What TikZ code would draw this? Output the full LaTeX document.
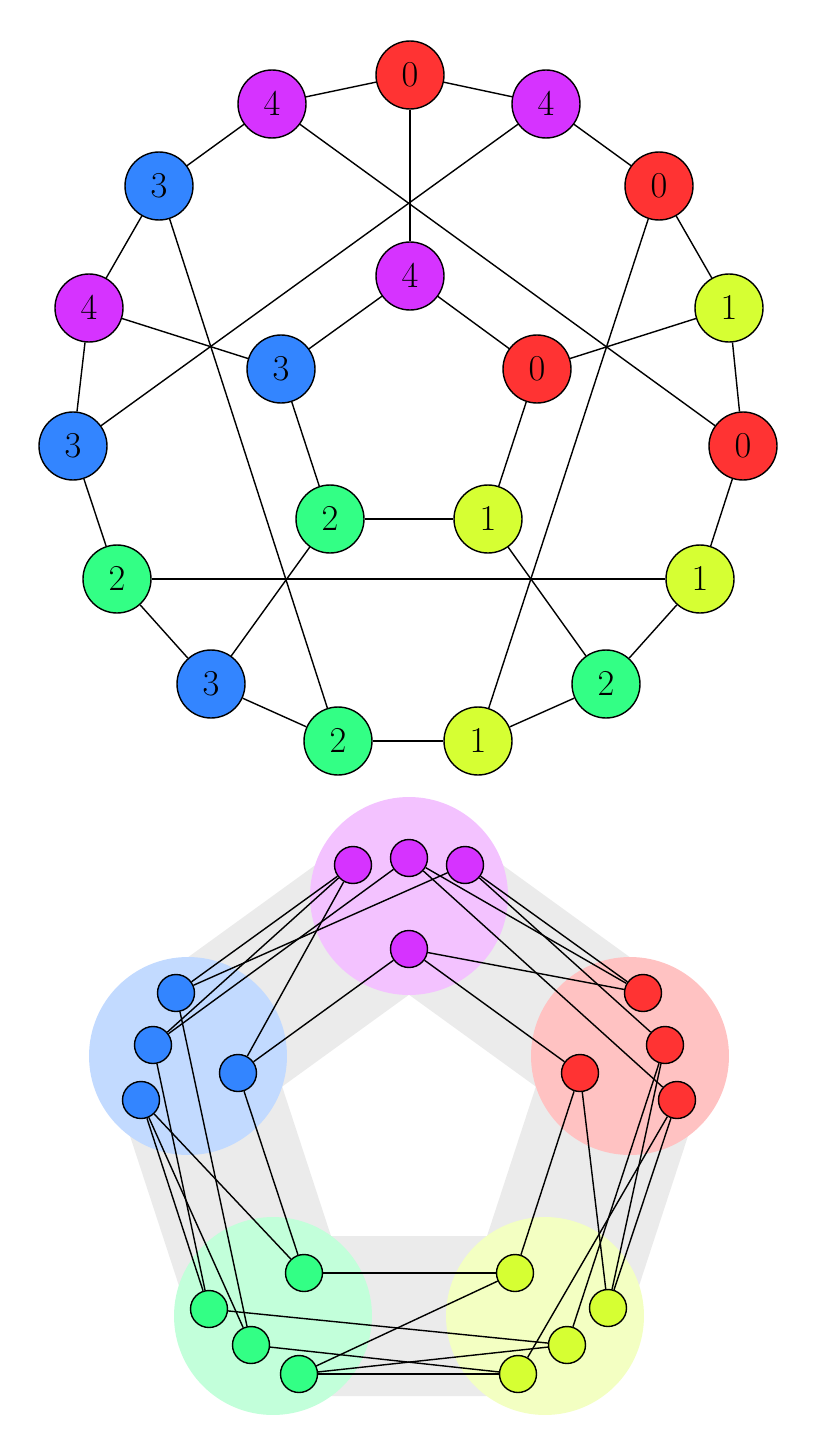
\documentclass[tikz,border=0pt]{standalone}
\usepackage{amsmath}
\usepackage{tikz}

\definecolor{cred}{RGB}{255,51,51}
\definecolor{cyel}{RGB}{214,255,51}
\definecolor{cgrn}{RGB}{51,255,133}
\definecolor{cblu}{RGB}{51,133,255}
\definecolor{cpur}{RGB}{214,51,255}

\begin{document}
\begin{tikzpicture}[x=0.02cm,y=-0.02cm,
        vert/.style={circle,draw,line width=0.8pt,minimum size=1.36cm,inner sep=0pt,font=\fontsize{20}{24}\selectfont},
        dot/.style={circle,draw,line width=0.8pt,minimum size=0.74cm,inner sep=0pt},
        blob/.style={circle,minimum size=3.96cm,inner sep=0pt},
        edge/.style={line width=0.8pt}]
        \useasboundingbox (0,0) rectangle (820,1456);
        % upper drawing
        \node[vert,fill=cred] (tra) at (410,75) {$0$};
        \node[vert,fill=cpur] (tpa) at (272,104) {$4$};
        \node[vert,fill=cpur] (tpb) at (546,104) {$4$};
        \node[vert,fill=cblu] (tba) at (159,186) {$3$};
        \node[vert,fill=cred] (trb) at (659,186) {$0$};
        \node[vert,fill=cpur] (tpc) at (410,276) {$4$};
        \node[vert,fill=cpur] (tpd) at (89,308) {$4$};
        \node[vert,fill=cyel] (tya) at (729,308) {$1$};
        \node[vert,fill=cblu] (tbb) at (281,369) {$3$};
        \node[vert,fill=cred] (trc) at (537,369) {$0$};
        \node[vert,fill=cblu] (tbc) at (73,446) {$3$};
        \node[vert,fill=cred] (trd) at (743,446) {$0$};
        \node[vert,fill=cgrn] (tga) at (330,519) {$2$};
        \node[vert,fill=cyel] (tyb) at (488,519) {$1$};
        \node[vert,fill=cgrn] (tgb) at (117,579) {$2$};
        \node[vert,fill=cyel] (tyc) at (700,579) {$1$};
        \node[vert,fill=cblu] (tbd) at (211,684) {$3$};
        \node[vert,fill=cgrn] (tgc) at (606,684) {$2$};
        \node[vert,fill=cgrn] (tgd) at (338,741) {$2$};
        \node[vert,fill=cyel] (tyd) at (478,741) {$1$};
        % lower drawing, grouped by colour
        \coordinate (cp) at (409,896);
        \coordinate (cb) at (188,1056);
        \coordinate (cg) at (273,1316);
        \coordinate (cy) at (545,1316);
        \coordinate (cr) at (630,1056);
        \draw[line width=3.2cm,black!8,line join=round] (cp) -- (cb) -- (cg) -- (cy) -- (cr) -- cycle;
        \node[blob,fill=cpur!30] (bp) at (cp) {};
        \node[blob,fill=cblu!30] (bb) at (cb) {};
        \node[blob,fill=cgrn!30] (bg) at (cg) {};
        \node[blob,fill=cyel!30] (by) at (cy) {};
        \node[blob,fill=cred!30] (br) at (cr) {};
        \node[dot,fill=cpur] (spd) at (353,865) {};
        \node[dot,fill=cpur] (spb) at (409,858) {};
        \node[dot,fill=cpur] (spa) at (465,865) {};
        \node[dot,fill=cpur] (spc) at (409,949) {};
        \node[dot,fill=cblu] (sba) at (176,993) {};
        \node[dot,fill=cblu] (sbc) at (153,1045) {};
        \node[dot,fill=cblu] (sbd) at (141,1100) {};
        \node[dot,fill=cblu] (sbb) at (238,1073) {};
        \node[dot,fill=cred] (sra) at (643,993) {};
        \node[dot,fill=cred] (srd) at (665,1045) {};
        \node[dot,fill=cred] (srb) at (677,1100) {};
        \node[dot,fill=cred] (src) at (580,1073) {};
        \node[dot,fill=cgrn] (sga) at (304,1273) {};
        \node[dot,fill=cgrn] (sgb) at (209,1309) {};
        \node[dot,fill=cgrn] (sgd) at (251,1345) {};
        \node[dot,fill=cgrn] (sgc) at (299,1374) {};
        \node[dot,fill=cyel] (syb) at (515,1273) {};
        \node[dot,fill=cyel] (sya) at (608,1308) {};
        \node[dot,fill=cyel] (syc) at (567,1345) {};
        \node[dot,fill=cyel] (syd) at (518,1374) {};
        % same edges in both drawings
        \foreach \a/\b in {ra/pa,ra/pb,ra/pc,pa/ba,pa/rd,pb/rb,pb/bc,ba/pd,ba/gd,rb/ya,
                rb/yd,pd/bc,pd/bb,ya/rd,ya/rc,pc/bb,pc/rc,bb/ga,rc/yb,bc/gb,
                rd/yc,ga/yb,ga/bd,yb/gc,gb/yc,gb/bd,yc/gc,bd/gd,gd/yd,yd/gc}{
            \draw[edge] (t\a) -- (t\b);
            \draw[edge] (s\a) -- (s\b);
        }
\end{tikzpicture}
\end{document}
